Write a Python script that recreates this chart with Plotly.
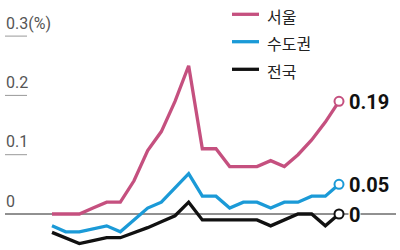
import plotly.graph_objects as go

# ---- data ----
weeks = list(range(22))
seoul = [0.00, 0.00, 0.00, 0.01, 0.02, 0.02, 0.056, 0.107, 0.139, 0.19, 0.25,
         0.11, 0.11, 0.08, 0.08, 0.08, 0.09, 0.08, 0.10, 0.125, 0.155, 0.19]
capital = [-0.02, -0.03, -0.03, -0.025, -0.02, -0.03, -0.01, 0.01, 0.02, 0.045, 0.068,
           0.03, 0.03, 0.01, 0.02, 0.02, 0.01, 0.02, 0.02, 0.03, 0.03, 0.05]
nation = [-0.031, -0.04, -0.05, -0.045, -0.04, -0.04, -0.032, -0.023, -0.013, -0.003, 0.02,
          -0.01, -0.01, -0.01, -0.01, -0.01, -0.02, -0.01, 0.00, 0.00, -0.02, 0.00]
series_names = ["서울", "수도권", "전국"]
series_colors = ["#c5507f", "#1b9ad7", "#111111"]
end_labels = ["0.19", "0.05", "0"]
tick_vals = [0, 0.1, 0.2, 0.3]
tick_text = ["0", "0.1", "0.2", "0.3(%)"]

W, H = 400, 250
def px(x):
    return x / W
def py(y):
    return 1 - y / H

fig = go.Figure()
all_series = [seoul, capital, nation]
for name, vals, col in zip(reversed(series_names), reversed(all_series), reversed(series_colors)):
    fig.add_trace(go.Scatter(x=weeks, y=vals, mode="lines", line=dict(color=col, width=3.3),
                             name=name, showlegend=False, hoverinfo="skip"))
for vals, col in zip(all_series, series_colors):
    fig.add_trace(go.Scatter(x=[weeks[-1]], y=[vals[-1]], mode="markers",
                             marker=dict(size=9, color="white", line=dict(color=col, width=2)),
                             showlegend=False, hoverinfo="skip"))

shapes = []
annotations = []
shapes.append(dict(type="line", xref="paper", yref="y", x0=px(5), x1=px(396), y0=0, y1=0,
                   line=dict(color="#222", width=1), layer="below"))
for v, t in zip(tick_vals, tick_text):
    if v != 0:
        shapes.append(dict(type="line", xref="paper", yref="y", x0=px(5), x1=px(27), y0=v, y1=v,
                           line=dict(color="#999", width=1), layer="below"))
    annotations.append(dict(xref="paper", yref="y", x=px(4), y=v, text=t, showarrow=False,
                            xanchor="left", yanchor="middle", yshift=13,
                            font=dict(family="Roboto", size=16, color="#555")))
for vals, lab in zip(all_series, end_labels):
    annotations.append(dict(xref="x", yref="y", x=weeks[-1], y=vals[-1], text=lab, showarrow=False,
                            xanchor="left", yanchor="middle", xshift=9, yshift=-1,
                            bgcolor="white", borderpad=0,
                            font=dict(family="Roboto", size=20, color="#111", weight="bold")))
leg_y = [14.3, 41.7, 69.3]
for name, col, y in zip(series_names, series_colors, leg_y):
    shapes.append(dict(type="line", xref="paper", yref="paper", x0=px(232), x1=px(259),
                       y0=py(y), y1=py(y), line=dict(color=col, width=3.3)))
    annotations.append(dict(xref="paper", yref="paper", x=px(265), y=py(y + 1.5), text=name,
                            showarrow=False, xanchor="left", yanchor="middle",
                            font=dict(family="Noto Sans CJK KR", size=16, color="#222")))

sx = 287 / 21
x0 = -52 / sx
x1 = 21 + (W - 339) / sx
sy = 593
y_top = 214 / sy
y_bot = -(H - 214) / sy

fig.update_layout(
    width=W, height=H, margin=dict(l=0, r=0, t=0, b=0),
    paper_bgcolor="white", plot_bgcolor="white",
    xaxis=dict(range=[x0, x1], visible=False, fixedrange=True),
    yaxis=dict(range=[y_bot, y_top], visible=False, fixedrange=True),
    shapes=shapes, annotations=annotations, showlegend=False,
)
fig.write_html("out.html")
